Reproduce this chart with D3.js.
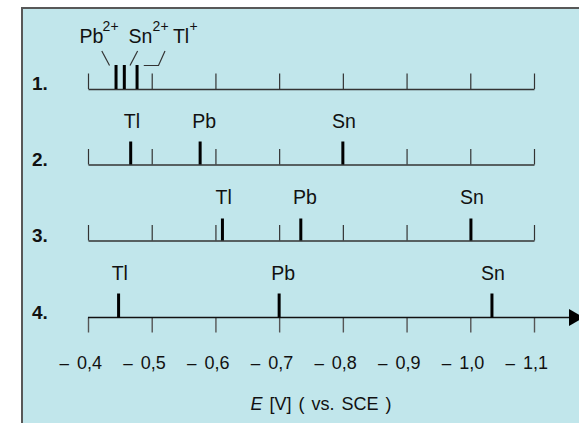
<!DOCTYPE html>
<html><head><meta charset="utf-8">
<script src="https://cdn.jsdelivr.net/npm/d3@7"></script>
<style>
body{margin:0;background:#fff;overflow:hidden}
svg{display:block}
text{font-family:"Liberation Sans",Arial,sans-serif;fill:#111}
</style>
</head><body><svg id="c" width="579" height="423"></svg>
<script>
// ---- data ----
const tickValues = [-0.4, -0.5, -0.6, -0.7, -0.8, -0.9, -1.0, -1.1];
const rowNames = ["1.", "2.", "3.", "4."];
const row1Ions = ["Pb", "Sn", "Tl"];
const row1Charges = ["2+", "2+", "+"];
const row1Values = [-0.444, -0.457, -0.477];
const row2Labels = ["Tl", "Pb", "Sn"];
const row2Values = [-0.467, -0.576, -0.800];
const row3Labels = ["Tl", "Pb", "Sn"];
const row3Values = [-0.611, -0.734, -1.001];
const row4Labels = ["Tl", "Pb", "Sn"];
const row4Values = [-0.448, -0.700, -1.034];
const axisTitleItalic = "E";
const axisTitleRest = " [V] ( vs. SCE )";

// ---- layout ----
const svg = d3.select("#c");
const x = d3.scaleLinear().domain([-0.4, -1.1]).range([88, 534]);
const baseY = [89, 164.5, 240.5, 317.5];
const barH = [24, 23, 22, 24];
const labelY = [0, 128, 203.5, 279.5];
const labelSize = 19.5;
const labelDx = {Tl: 1.2, Pb: 4, Sn: 1};

svg.append("rect").attr("x", 22).attr("y", 8).attr("width", 620).attr("height", 500)
  .attr("fill", "#c1e6eb").attr("stroke", "#585858").attr("stroke-width", 2);

// row names
svg.selectAll("text.rowname").data(rowNames).join("text")
  .attr("class", "rowname")
  .attr("x", 32).attr("y", (d, i) => baseY[i] + 1)
  .attr("font-size", 19).attr("font-weight", "bold")
  .text(d => d);

// upper axes (rows 1-3): ticks upward
for (let r = 0; r < 3; r++) {
  const g = svg.append("g").attr("transform", `translate(0,${baseY[r]})`)
    .call(d3.axisTop(x).tickValues(tickValues).tickSizeInner(15.5).tickSizeOuter(0).tickFormat(""));
  g.select(".domain").attr("stroke", "#333").attr("stroke-width", 1.6);
  g.selectAll(".tick line").attr("stroke", "#333").attr("stroke-width", 1.2);
}

// main axis (row 4)
const g4 = svg.append("g").attr("transform", `translate(0,${baseY[3]})`)
  .call(d3.axisBottom(x).tickValues(tickValues).tickSizeInner(15).tickSizeOuter(0)
    .tickFormat(d => Math.abs(d).toFixed(1).replace(".", ",")));
g4.select(".domain").remove();
g4.selectAll(".tick line").attr("stroke", "#555").attr("stroke-width", 1.4);
g4.selectAll(".tick text").attr("y", 51).attr("dy", 0).attr("x", 1)
  .attr("font-size", 18).attr("font-family", '"Liberation Sans",Arial,sans-serif').attr("fill", "#111");
g4.selectAll(".tick").append("text")
  .attr("x", -19.5).attr("y", 51).attr("text-anchor", "end")
  .attr("font-size", 17).attr("fill", "#111").text("\u2013");
g4.append("line").attr("x1", x(-0.4)).attr("x2", 572).attr("y1", 0).attr("y2", 0)
  .attr("stroke", "#111").attr("stroke-width", 1.6);
g4.append("path").attr("d", `M569,-8.5L584,0L569,8.5Z`).attr("fill", "#000");

// bars
const rows = [row1Values, row2Values, row3Values, row4Values];
rows.forEach((vals, r) => {
  svg.selectAll(null).data(vals).join("rect")
    .attr("x", d => x(d) - 1.5).attr("width", 3)
    .attr("y", baseY[r] - barH[r]).attr("height", barH[r])
    .attr("fill", "#000");
});

// labels rows 2-4
[row2Labels, row3Labels, row4Labels].forEach((labs, k) => {
  const r = k + 1;
  svg.selectAll(null).data(labs).join("text")
    .attr("x", (d, i) => x(rows[r][i]) + labelDx[d]).attr("y", labelY[r])
    .attr("text-anchor", "middle").attr("font-size", labelSize)
    .text(d => d);
});

// row 1 labels with charges and leader lines
const r1LabelX = [79.5, 128.4, 172.9];
const r1SupX = [102.6, 152.6, 189.6];
row1Ions.forEach((ion, i) => {
  svg.append("text").attr("x", r1LabelX[i]).attr("y", 42.5).attr("font-size", labelSize).text(ion);
  svg.append("text").attr("x", r1SupX[i]).attr("y", 30.5).attr("font-size", 14).text(row1Charges[i]);
});
const lead = [
  [[101.8, 51], [x(row1Values[0]) - 6.5, 65.5]],
  [[137.6, 51], [x(row1Values[1]) + 5.7, 65.5]],
  [[165, 51], [158.5, 65.5], [x(row1Values[2]) + 6.7, 65.5]]
];
svg.selectAll("path.lead").data(lead).join("path").attr("class", "lead")
  .attr("d", d => d3.line()(d)).attr("fill", "none").attr("stroke", "#333").attr("stroke-width", 1.2);

// axis title
const t = svg.append("text").attr("x", 321).attr("y", 410).attr("text-anchor", "middle")
  .attr("font-size", 18).attr("word-spacing", 2);
t.append("tspan").attr("font-style", "italic").text(axisTitleItalic);
t.append("tspan").text(axisTitleRest);
</script>
</body></html>
